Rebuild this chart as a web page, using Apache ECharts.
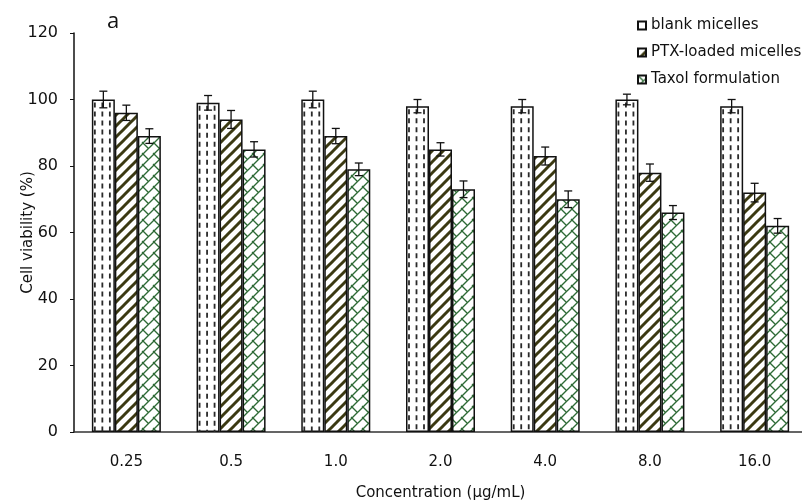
<!DOCTYPE html>
<html>
<head>
<meta charset="utf-8">
<script src="https://cdn.jsdelivr.net/npm/echarts@6/dist/echarts.min.js"></script>
<style>html,body{margin:0;padding:0;background:#fff;}#c{width:802px;height:501px;}</style>
</head>
<body>
<div id="c"></div>
<script>
const categories = ['0.25', '0.5', '1.0', '2.0', '4.0', '8.0', '16.0'];
const seriesNames = ['blank micelles', 'PTX-loaded micelles', 'Taxol formulation'];
const blankVals = [100, 99, 100, 98, 98, 100, 98];
const blankErr = [2.5, 2.2, 2.5, 2.0, 2.0, 1.6, 2.0];
const ptxVals = [96, 94, 89, 85, 83, 78, 72];
const ptxErr = [2.3, 2.7, 2.3, 2.0, 2.7, 2.6, 2.8];
const taxolVals = [89, 85, 79, 73, 70, 66, 62];
const taxolErr = [2.2, 2.3, 1.9, 2.5, 2.5, 2.1, 2.2];
const yTicks = { min: 0, max: 120, interval: 20 };

const BW = 23;

function stripeTile() {
  const s = 11, c = document.createElement('canvas');
  c.width = s; c.height = s;
  const g = c.getContext('2d');
  g.fillStyle = '#ffffff'; g.fillRect(0, 0, s, s);
  g.strokeStyle = '#3b3912'; g.lineWidth = 3.0;
  for (const k of [-1, 0, 1]) {
    g.beginPath(); g.moveTo(k * s - 2, s + 2); g.lineTo(k * s + s + 2, -2); g.stroke();
  }
  return c;
}
function brickTile() {
  const s = 11, c = document.createElement('canvas');
  c.width = s; c.height = s;
  const g = c.getContext('2d');
  g.fillStyle = '#ffffff'; g.fillRect(0, 0, s, s);
  g.strokeStyle = '#2e6a36'; g.lineWidth = 1.3;
  for (const k of [-1, 0, 1]) {
    g.beginPath(); g.moveTo(k * s - 2, s + 2); g.lineTo(k * s + s + 2, -2); g.stroke();
  }
  g.beginPath(); g.moveTo(-1, -1); g.lineTo(s / 2, s / 2); g.stroke();
  g.beginPath(); g.moveTo(s - 1, s - 1); g.lineTo(s + s / 2, s + s / 2); g.stroke();
  return c;
}

function errSeries(vals, errs, off) {
  return {
    type: 'custom', silent: true, z: 6,
    data: vals.map((v, i) => [i, v, errs[i]]),
    encode: { x: 0, y: 1 },
    renderItem: function (params, api) {
      const i = api.value(0), v = api.value(1), e = api.value(2);
      const hi = api.coord([i, v + e]);
      const lo = api.coord([i, v - e]);
      const x = hi[0] + off;
      const st = { stroke: '#111', lineWidth: 1.3 };
      return {
        type: 'group', children: [
          { type: 'line', shape: { x1: x, y1: hi[1], x2: x, y2: lo[1] }, style: st },
          { type: 'line', shape: { x1: x - 4, y1: hi[1], x2: x + 4, y2: hi[1] }, style: st },
          { type: 'line', shape: { x1: x - 4, y1: lo[1], x2: x + 4, y2: lo[1] }, style: st }
        ]
      };
    }
  };
}

const dashSeries = {
  type: 'custom', silent: true, z: 4,
  data: blankVals.map((v, i) => [i, v]),
  encode: { x: 0, y: 1 },
  renderItem: function (params, api) {
    const i = api.value(0), v = api.value(1);
    const top = api.coord([i, v]);
    const bot = api.coord([i, 0]);
    const left = top[0] - BW - BW / 2;
    const st = { stroke: '#2a2a2a', lineWidth: 1.8, lineDash: [5, 4] };
    return {
      type: 'group', children: [3, 10.5, 18].map(dx => ({
        type: 'line', shape: { x1: left + dx, y1: top[1] + 3, x2: left + dx, y2: bot[1] }, style: st
      }))
    };
  }
};

const barBorder = { borderColor: '#111', borderWidth: 1.5 };

const chart = echarts.init(document.getElementById('c'), null, { renderer: 'canvas' });
chart.setOption({
  animation: false,
  backgroundColor: '#fff',
  grid: { left: 74, top: 33, width: 733, height: 399, containLabel: false, outerBoundsMode: 'none' },
  legend: {
    data: seriesNames, orient: 'vertical', left: 632, top: 13,
    itemWidth: 8, itemHeight: 8, itemGap: 12, icon: 'rect',
    textStyle: { fontFamily: 'DejaVu Sans', fontSize: 15, color: '#111' }
  },
  graphic: [{
    type: 'text', left: 107, top: 11,
    style: { text: 'a', font: '22px "Open Sans"', fill: '#111' }
  }],
  xAxis: {
    type: 'category', data: categories,
    name: 'Concentration (μg/mL)', nameLocation: 'middle', nameGap: 54, nameMoveOverlap: false,
    nameTextStyle: { fontFamily: 'DejaVu Sans', fontSize: 15, color: '#111' },
    axisLine: { lineStyle: { color: '#333', width: 1.5 } },
    axisTick: { inside: true, length: 4, lineStyle: { color: '#333' } },
    axisLabel: { margin: 23, fontFamily: 'DejaVu Sans', fontSize: 15, color: '#111' }
  },
  yAxis: {
    type: 'value', min: yTicks.min, max: yTicks.max, interval: yTicks.interval,
    name: 'Cell viability (%)', nameLocation: 'middle', nameGap: 38, nameMoveOverlap: false,
    nameTextStyle: { fontFamily: 'DejaVu Sans', fontSize: 15, color: '#111' },
    axisLine: { show: true, lineStyle: { color: '#111', width: 1.5 } },
    axisTick: { show: true, length: 4, lineStyle: { color: '#111' } },
    splitLine: { show: false },
    axisLabel: { margin: 16, fontFamily: 'DejaVu Sans', fontSize: 16, color: '#111' }
  },
  series: [
    { name: seriesNames[0], type: 'bar', data: blankVals, barWidth: BW, barGap: '0%',
      itemStyle: Object.assign({ color: '#ffffff' }, barBorder) },
    { name: seriesNames[1], type: 'bar', data: ptxVals, barWidth: BW, barGap: '0%',
      itemStyle: Object.assign({ color: { image: stripeTile(), repeat: 'repeat' } }, barBorder) },
    { name: seriesNames[2], type: 'bar', data: taxolVals, barWidth: BW, barGap: '0%',
      itemStyle: Object.assign({ color: { image: brickTile(), repeat: 'repeat' } }, barBorder) },
    dashSeries,
    errSeries(blankVals, blankErr, -BW),
    errSeries(ptxVals, ptxErr, 0),
    errSeries(taxolVals, taxolErr, BW)
  ]
});
</script>
</body>
</html>
